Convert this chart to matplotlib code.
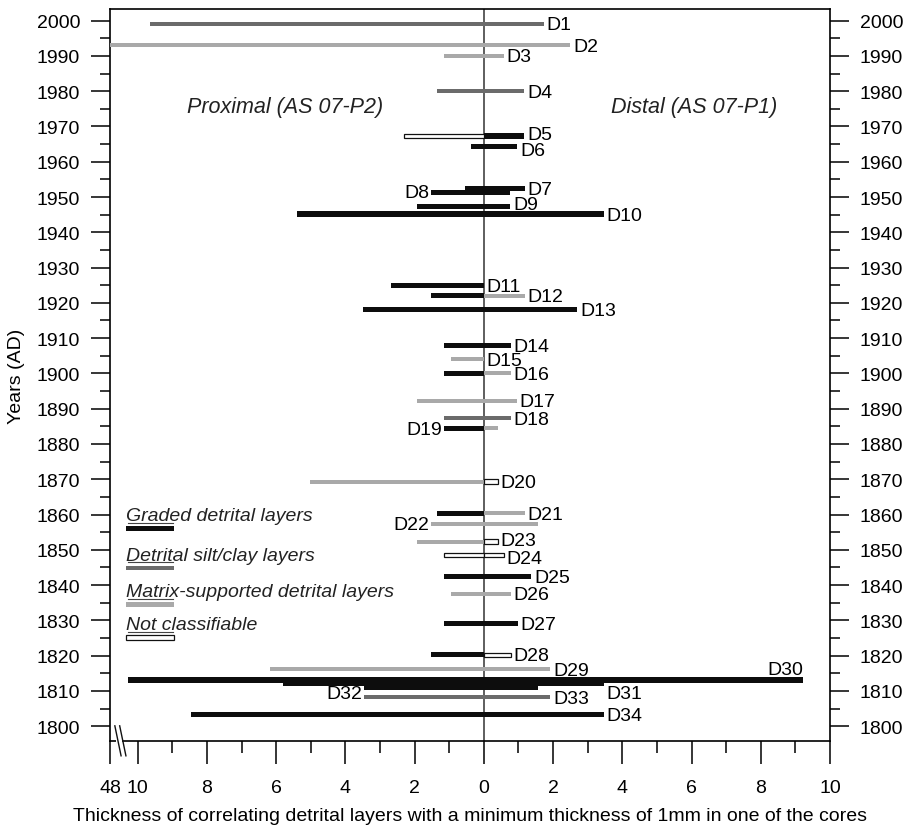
import matplotlib
matplotlib.use("Agg")
import matplotlib.pyplot as plt
from matplotlib.ticker import MultipleLocator

plt.rcParams['font.family'] = ['Liberation Sans', 'DejaVu Sans']

# detrital layers: name, year, thickness in proximal core (mm), in distal core (mm)
names = ['D%d' % i for i in range(1, 35)]
years = [1999.1, 1993.1, 1990.0, 1980.0, 1967.3, 1964.2, 1952.3, 1951.2,
         1947.2, 1945.2, 1925.0, 1922.0, 1918.0, 1908.0, 1904.1, 1900.1,
         1892.2, 1887.3, 1884.5, 1869.3, 1860.3, 1857.2, 1852.3, 1848.5,
         1842.5, 1837.5, 1829.2, 1820.2, 1816.2, 1813.1, 1812.2, 1811.0,
         1808.2, 1803.4]
proximal = [9.65, 48.0, 1.15, 1.34, 2.32, 0.38, 0.55, 1.53,
            1.92, 5.41, 2.68, 1.53, 3.48, 1.15, 0.96, 1.15,
            1.92, 1.15, 1.15, 5.03, 1.34, 1.53, 1.92, 1.15,
            1.15, 0.96, 1.15, 1.53, 6.18, 10.28, 5.79, 3.47,
            3.47, 8.47]
distal = [1.73, 2.50, 0.58, 1.17, 1.17, 0.97, 1.18, 0.77,
          0.77, 3.46, 0.0, 1.18, 2.70, 0.78, 0.0, 0.78,
          0.96, 0.78, 0.41, 0.41, 1.18, 1.56, 0.41, 0.58,
          1.37, 0.78, 0.98, 0.78, 1.92, 9.22, 3.46, 1.56,
          1.92, 3.46]
# g = graded, s = silt/clay, m = matrix-supported, n = not classifiable
proximal_type = ['s', 'm', 'm', 's', 'n', 'g', 'g', 'g', 'g', 'g',
                 'g', 'g', 'g', 'g', 'm', 'g', 'm', 's', 'g', 'm',
                 'g', 'm', 'm', 'n', 'g', 'm', 'g', 'g', 'm', 'g',
                 'g', 'g', 's', 'g']
distal_type = ['s', 'm', 'm', 's', 'g', 'g', 'g', 'g', 'g', 'g',
               '-', 'm', 'g', 'g', '-', 'm', 'm', 's', 'm', 'n',
               'm', 'm', 'n', 'n', 'g', 'm', 'g', 'n', 'm', 'g',
               'g', 'g', 's', 'g']

legend_labels = ['Graded detrital layers', 'Detrital silt/clay layers',
                 'Matrix-supported detrital layers', 'Not classifiable']
legend_types = ['g', 's', 'm', 'n']

styles = {
    'g': dict(color='#0d0d0d', height=1.45),
    's': dict(color='#6b6b6b', height=1.15),
    'm': dict(color='#a9a9a9', height=1.15),
    'n': dict(facecolor='white', edgecolor='#111111', linewidth=0.9, height=1.3),
}

# label placement tweaks: (side, vertical shift in years)
label_place = {'D5': ('right', 0.4), 'D6': ('right', -1.0),
               'D8': ('left', 0.0), 'D19': ('left', -0.3), 'D22': ('left', 0.0),
               'D23': ('right', 0.2), 'D24': ('right', -0.9),
               'D32': ('left', -1.7), 'D9': ('right', 0.7),
               'D30': ('top', 3.1), 'D31': ('right', -3.0)}

fig = plt.figure(figsize=(9.06, 8.28), dpi=100)
ax = fig.add_axes([110 / 906, 86 / 828, 720 / 906, 732 / 828])

for name, y, p, d, pt, dt in zip(names, years, proximal, distal,
                                 proximal_type, distal_type):
    if p > 0:
        ax.barh(y, -p, left=0, zorder=3, **styles[pt])
    if d > 0:
        ax.barh(y, d, left=0, zorder=3, **styles[dt])

    side, dy = label_place.get(name, ('right', -0.3))
    if side == 'left':
        ax.text(-p - 0.05, y + dy, name, ha='right', va='center', fontsize=14,
                zorder=5)
    elif side == 'top':
        ax.text(d, y + dy, name, ha='right', va='center', fontsize=14,
                zorder=5)
    else:
        ax.text(d + 0.08, y + dy, name, ha='left', va='center', fontsize=14,
                zorder=5)

ax.axvline(0, color='#333333', lw=1.1, zorder=2)

# legend drawn inside the axes
leg_x = -10.34
leg_text_y = [1859.7, 1848.5, 1838.2, 1828.9]
for lab, t, ty in zip(legend_labels, legend_types, leg_text_y):
    ax.text(leg_x, ty, lab, ha='left', va='center', fontsize=14,
            style='italic', color='#222222')
    ax.plot([leg_x + 0.05, leg_x + 1.35], [ty - 2.1, ty - 2.1], color='#444444',
            lw=0.8)
    ax.barh(ty - 3.7, 1.4, left=leg_x, **styles[t])

ax.text(-5.75, 1975.8, 'Proximal (AS 07-P2)', ha='center', va='center',
        fontsize=15.5, style='italic', color='#222222')
ax.text(6.07, 1975.8, 'Distal (AS 07-P1)', ha='center', va='center',
        fontsize=15.5, style='italic', color='#222222')

ax.set_xlim(-10.8, 10)
ax.set_ylim(1795.8, 2003.3)

xt = [-10.8] + list(range(-10, 11, 2))
ax.set_xticks(xt)
ax.set_xticklabels(['48'] + [str(abs(v)) for v in range(-10, 11, 2)])
ax.xaxis.set_minor_locator(MultipleLocator(1))
ax.set_yticks(range(1800, 2001, 10))
ax.yaxis.set_minor_locator(MultipleLocator(5))

ax.tick_params(axis='x', which='major', direction='out', length=16.5,
               width=1.1, pad=11, labelsize=14)
ax.tick_params(axis='x', which='minor', direction='out', length=8.5, width=1.1)
ax.tick_params(axis='y', which='major', direction='out', length=13.5,
               width=1.1, pad=8, labelsize=14, right=True, labelright=True)
ax.tick_params(axis='y', which='minor', direction='out', length=7,
               width=1.1, right=True)
for s in ax.spines.values():
    s.set_linewidth(1.2)

# axis break marks on the bottom spine
ax.fill_between([-10.62, -10.44], 1795.0, 1796.6, color='white', zorder=6,
                clip_on=False, lw=0)
for x0 in (-10.66, -10.52):
    ax.plot([x0, x0 + 0.18], [1800.1, 1791.6], color='#111111', lw=1.0,
            clip_on=False, zorder=7)

ax.set_xlabel('Thickness of correlating detrital layers with a minimum '
              'thickness of 1mm in one of the cores', fontsize=14, labelpad=8)
ax.set_ylabel('Years (AD)', fontsize=14, labelpad=8)

fig.savefig('out.png', dpi=100)
